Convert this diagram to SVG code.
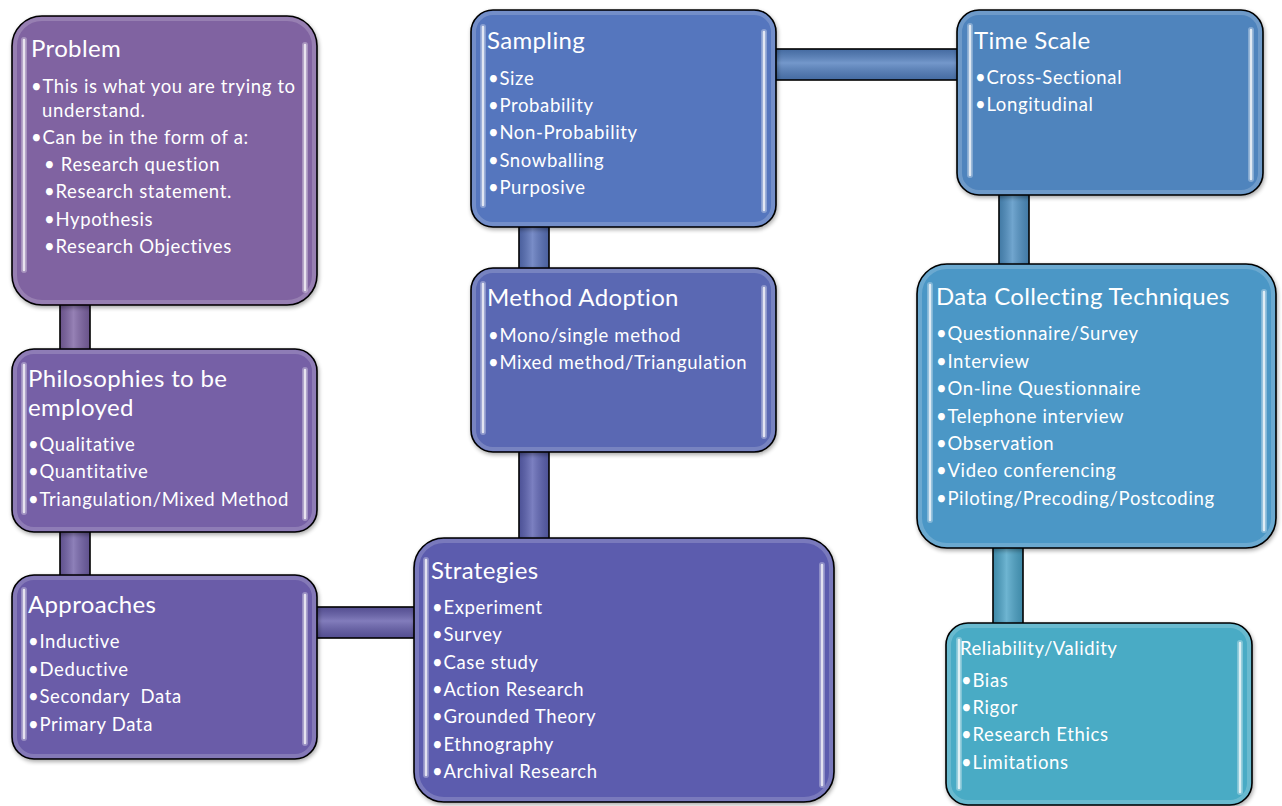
<svg xmlns="http://www.w3.org/2000/svg" width="1282" height="806" viewBox="0 0 1282 806">
<defs>
  <filter id="sh" x="-10%" y="-10%" width="120%" height="120%">
    <feGaussianBlur in="SourceAlpha" stdDeviation="2"/>
    <feOffset dx="1" dy="2"/>
    <feComponentTransfer><feFuncA type="linear" slope="0.35"/></feComponentTransfer>
    <feMerge><feMergeNode/><feMergeNode in="SourceGraphic"/></feMerge>
  </filter>
  <linearGradient id="gv" x1="0" y1="0" x2="1" y2="0">
    <stop offset="0" stop-color="#000" stop-opacity="0.15"/>
    <stop offset="0.45" stop-color="#fff" stop-opacity="0.2"/>
    <stop offset="1" stop-color="#000" stop-opacity="0.15"/>
  </linearGradient>
  <linearGradient id="gh" x1="0" y1="0" x2="0" y2="1">
    <stop offset="0" stop-color="#000" stop-opacity="0.15"/>
    <stop offset="0.45" stop-color="#fff" stop-opacity="0.2"/>
    <stop offset="1" stop-color="#000" stop-opacity="0.15"/>
  </linearGradient>
</defs>
<style>
  .box{stroke:#000;stroke-width:1.6}
  .bevel{fill:none;stroke:#fff;stroke-opacity:0.18;stroke-width:4}
  .hl{stroke:#fff;stroke-width:2.5;stroke-linecap:round;opacity:0.75}
  .hlg{stroke:#fff;stroke-width:6;stroke-linecap:round;opacity:0.3}
  .bar{stroke:#000;stroke-width:1.6}
  text{font-family:Lato,"Liberation Sans",sans-serif;fill:#fff;white-space:pre}
  .t{font-size:24px;letter-spacing:0.35px}
  .b{font-size:18.5px;letter-spacing:0.65px}
  .ts{font-size:18.5px;letter-spacing:0.55px}
</style>
<rect width="1282" height="806" fill="#fff"/>

<g id="connectors">
  <rect class="bar" x="60" y="300" width="30" height="55" fill="#7C62A3"/>
  <rect x="60" y="300" width="30" height="55" fill="url(#gv)"/>
  <rect class="bar" x="60" y="528" width="30" height="52" fill="#7160A7"/>
  <rect x="60" y="528" width="30" height="52" fill="url(#gv)"/>
  <rect class="bar" x="312" y="607" width="106" height="31" fill="#635CAB"/>
  <rect x="312" y="607" width="106" height="31" fill="url(#gh)"/>
  <rect class="bar" x="519" y="446" width="30" height="97" fill="#5A60B1"/>
  <rect x="519" y="446" width="30" height="97" fill="url(#gv)"/>
  <rect class="bar" x="519" y="222" width="30" height="50" fill="#5770B9"/>
  <rect x="519" y="222" width="30" height="50" fill="url(#gv)"/>
  <rect class="bar" x="772" y="49" width="190" height="31" fill="#517EBE"/>
  <rect x="772" y="49" width="190" height="31" fill="url(#gh)"/>
  <rect class="bar" x="999" y="190" width="30" height="80" fill="#4D8FC2"/>
  <rect x="999" y="190" width="30" height="80" fill="url(#gv)"/>
  <rect class="bar" x="993" y="543" width="30" height="84" fill="#4AA2C6"/>
  <rect x="993" y="543" width="30" height="84" fill="url(#gv)"/>
</g>

<g id="problem">
  <rect class="box" x="12" y="16" width="305" height="289" rx="30" fill="#8063A1" filter="url(#sh)"/>
  <rect class="bevel" x="15" y="19" width="299" height="283" rx="27"/>
  <line class="hlg" x1="24" y1="40" x2="24" y2="270"/><line class="hl" x1="24" y1="40" x2="24" y2="270"/>
  <line class="hlg" x1="305" y1="45" x2="305" y2="290"/><line class="hl" x1="305" y1="45" x2="305" y2="290"/>
  <text class="t" x="31" y="57">Problem</text>
  <text class="b" x="31" y="93">•This is what you are trying to</text>
  <text class="b" x="42" y="117">understand.</text>
  <text class="b" x="31" y="144">•Can be in the form of a:</text>
  <text class="b" x="44" y="171">• Research question</text>
  <text class="b" x="44" y="198">•Research statement.</text>
  <text class="b" x="44" y="226">•Hypothesis</text>
  <text class="b" x="44" y="253">•Research Objectives</text>
</g>

<g id="philosophies">
  <rect class="box" x="12" y="349" width="305" height="183" rx="22" fill="#7661A6" filter="url(#sh)"/>
  <rect class="bevel" x="15" y="352" width="299" height="177" rx="19"/>
  <line class="hlg" x1="24" y1="365" x2="24" y2="512"/><line class="hl" x1="24" y1="365" x2="24" y2="512"/>
  <line class="hlg" x1="305" y1="370" x2="305" y2="518"/><line class="hl" x1="305" y1="370" x2="305" y2="518"/>
  <text class="t" x="28" y="387">Philosophies to be</text>
  <text class="t" x="28" y="416">employed</text>
  <text class="b" x="28" y="451">•Qualitative</text>
  <text class="b" x="28" y="478">•Quantitative</text>
  <text class="b" x="28" y="506">•Triangulation/Mixed Method</text>
</g>

<g id="approaches">
  <rect class="box" x="12" y="575" width="305" height="184" rx="22" fill="#6A5BA8" filter="url(#sh)"/>
  <rect class="bevel" x="15" y="578" width="299" height="178" rx="19"/>
  <line class="hlg" x1="24" y1="590" x2="24" y2="738"/><line class="hl" x1="24" y1="590" x2="24" y2="738"/>
  <line class="hlg" x1="305" y1="595" x2="305" y2="743"/><line class="hl" x1="305" y1="595" x2="305" y2="743"/>
  <text class="t" x="28" y="613">Approaches</text>
  <text class="b" x="28" y="648">•Inductive</text>
  <text class="b" x="28" y="676">•Deductive</text>
  <text class="b" x="28" y="703">•Secondary  Data</text>
  <text class="b" x="28" y="731">•Primary Data</text>
</g>

<g id="strategies">
  <rect class="box" x="414" y="538" width="420" height="264" rx="30" fill="#5B5BAE" filter="url(#sh)"/>
  <rect class="bevel" x="417" y="541" width="414" height="258" rx="27"/>
  <line class="hlg" x1="426" y1="560" x2="426" y2="775"/><line class="hl" x1="426" y1="560" x2="426" y2="775"/>
  <line class="hlg" x1="822" y1="565" x2="822" y2="785"/><line class="hl" x1="822" y1="565" x2="822" y2="785"/>
  <text class="t" x="431" y="579">Strategies</text>
  <text class="b" x="432" y="614">•Experiment</text>
  <text class="b" x="432" y="641">•Survey</text>
  <text class="b" x="432" y="669">•Case study</text>
  <text class="b" x="432" y="696">•Action Research</text>
  <text class="b" x="432" y="723">•Grounded Theory</text>
  <text class="b" x="432" y="751">•Ethnography</text>
  <text class="b" x="432" y="778">•Archival Research</text>
</g>

<g id="method-adoption">
  <rect class="box" x="471" y="268" width="305" height="184" rx="22" fill="#5A67B3" filter="url(#sh)"/>
  <rect class="bevel" x="474" y="271" width="299" height="178" rx="19"/>
  <line class="hlg" x1="483" y1="284" x2="483" y2="432"/><line class="hl" x1="483" y1="284" x2="483" y2="432"/>
  <line class="hlg" x1="764" y1="288" x2="764" y2="436"/><line class="hl" x1="764" y1="288" x2="764" y2="436"/>
  <text class="t" x="487" y="306">Method Adoption</text>
  <text class="b" x="488" y="342">•Mono/single method</text>
  <text class="b" x="488" y="369">•Mixed method/Triangulation</text>
</g>

<g id="sampling">
  <rect class="box" x="471" y="10" width="305" height="217" rx="22" fill="#5476BE" filter="url(#sh)"/>
  <rect class="bevel" x="474" y="13" width="299" height="211" rx="19"/>
  <line class="hlg" x1="483" y1="27" x2="483" y2="205"/><line class="hl" x1="483" y1="27" x2="483" y2="205"/>
  <line class="hlg" x1="764" y1="32" x2="764" y2="210"/><line class="hl" x1="764" y1="32" x2="764" y2="210"/>
  <text class="t" x="487" y="49">Sampling</text>
  <text class="b" x="488" y="85">•Size</text>
  <text class="b" x="488" y="112">•Probability</text>
  <text class="b" x="488" y="139">•Non-Probability</text>
  <text class="b" x="488" y="167">•Snowballing</text>
  <text class="b" x="488" y="194">•Purposive</text>
</g>

<g id="time-scale">
  <rect class="box" x="957" y="10" width="306" height="185" rx="22" fill="#4F84BD" filter="url(#sh)"/>
  <rect class="bevel" x="960" y="13" width="300" height="179" rx="19"/>
  <line class="hlg" x1="970" y1="26" x2="970" y2="175"/><line class="hl" x1="970" y1="26" x2="970" y2="175"/>
  <line class="hlg" x1="1251" y1="30" x2="1251" y2="179"/><line class="hl" x1="1251" y1="30" x2="1251" y2="179"/>
  <text class="t" x="974" y="49">Time Scale</text>
  <text class="b" x="975" y="84">•Cross-Sectional</text>
  <text class="b" x="975" y="111">•Longitudinal</text>
</g>

<g id="data-collecting">
  <rect class="box" x="917" y="264" width="359" height="284" rx="30" fill="#4B97C6" filter="url(#sh)"/>
  <rect class="bevel" x="920" y="267" width="353" height="278" rx="27"/>
  <line class="hlg" x1="930" y1="285" x2="930" y2="520"/><line class="hl" x1="930" y1="285" x2="930" y2="520"/>
  <line class="hlg" x1="1264" y1="292" x2="1264" y2="530"/><line class="hl" x1="1264" y1="292" x2="1264" y2="530"/>
  <text class="t" x="936" y="305">Data Collecting Techniques</text>
  <text class="b" x="936" y="340">•Questionnaire/Survey</text>
  <text class="b" x="936" y="368">•Interview</text>
  <text class="b" x="936" y="395">•On-line Questionnaire</text>
  <text class="b" x="936" y="423">•Telephone interview</text>
  <text class="b" x="936" y="450">•Observation</text>
  <text class="b" x="936" y="477">•Video conferencing</text>
  <text class="b" x="936" y="505">•Piloting/Precoding/Postcoding</text>
</g>

<g id="reliability">
  <rect class="box" x="946" y="623" width="306" height="182" rx="22" fill="#4AABC5" filter="url(#sh)"/>
  <rect class="bevel" x="949" y="626" width="300" height="176" rx="19"/>
  <line class="hlg" x1="959" y1="640" x2="959" y2="788"/><line class="hl" x1="959" y1="640" x2="959" y2="788"/>
  <line class="hlg" x1="1240" y1="643" x2="1240" y2="792"/><line class="hl" x1="1240" y1="643" x2="1240" y2="792"/>
  <text class="ts" x="960" y="655">Reliability/Validity</text>
  <text class="b" x="961" y="687">•Bias</text>
  <text class="b" x="961" y="714">•Rigor</text>
  <text class="b" x="961" y="741">•Research Ethics</text>
  <text class="b" x="961" y="769">•Limitations</text>
</g>
</svg>
